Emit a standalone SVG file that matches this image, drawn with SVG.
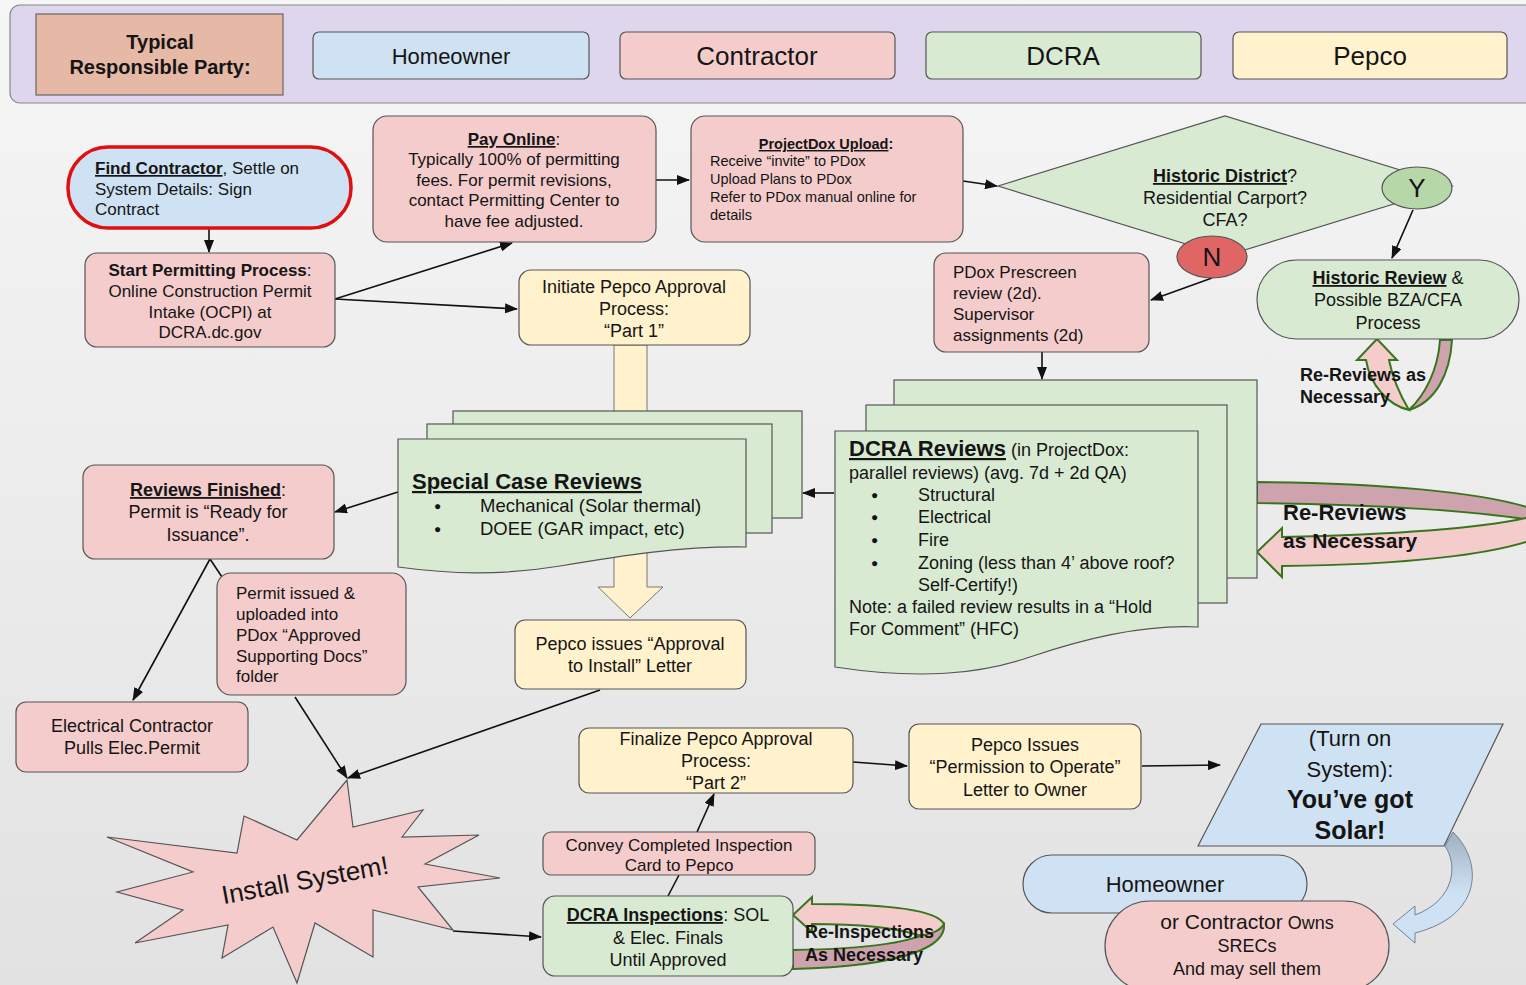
<svg xmlns="http://www.w3.org/2000/svg" width="1526" height="985" viewBox="0 0 1526 985">
<defs>
<linearGradient id="bg" x1="0" y1="0" x2="0" y2="1"><stop offset="0" stop-color="#f6f6f6"/><stop offset="1" stop-color="#e2e2e2"/></linearGradient>
<linearGradient id="gsol" x1="0" y1="0" x2="0" y2="1"><stop offset="0" stop-color="#9fb0c0"/><stop offset="0.55" stop-color="#cfe2f3"/></linearGradient>
<marker id="ah" markerUnits="userSpaceOnUse" markerWidth="13" markerHeight="10" viewBox="0 0 13 10" refX="12" refY="5" orient="auto"><path d="M0,0 L13,5 L0,10 Z" fill="#111"/></marker>
<style>
text{font-family:"Liberation Sans",Arial,sans-serif;fill:#151515}
.c{text-anchor:middle}
.b{font-weight:bold}
.u{text-decoration:underline}
.n{stroke:#555;stroke-width:1.2}
.blue{fill:#cfe2f3}.pink{fill:#f4cccc}.green{fill:#d9ead3}.yellow{fill:#fff2cc}
.conn{stroke:#111;stroke-width:1.6;fill:none}
.arr{marker-end:url(#ah)}
.band{stroke:#38761d;stroke-width:2}
.dark{fill:#cfa3ad}
.f17{font-size:17px}.f18{font-size:18px}
.bul{font-size:12px}
</style>
</defs>
<rect x="0" y="0" width="1526" height="985" fill="url(#bg)"/>

<g id="legend">
<rect x="10" y="5" width="1530" height="98" rx="10" fill="#ddd6ec" stroke="#888" stroke-width="1.2"/>
<rect x="36" y="14" width="247" height="81" fill="#e6b8a6" stroke="#666" stroke-width="1.2"/>
<text class="c b" x="160" y="49" font-size="20">Typical</text>
<text class="c b" x="160" y="74" font-size="20">Responsible Party:</text>
<rect class="n blue" x="313" y="32" width="276" height="47" rx="6"/>
<text class="c" x="451" y="64" font-size="22">Homeowner</text>
<rect class="n pink" x="620" y="32" width="275" height="47" rx="6"/>
<text class="c" x="757" y="65" font-size="26">Contractor</text>
<rect class="n green" x="926" y="32" width="275" height="47" rx="6"/>
<text class="c" x="1063" y="65" font-size="26">DCRA</text>
<rect class="n yellow" x="1233" y="32" width="274" height="47" rx="6"/>
<text class="c" x="1370" y="65" font-size="26">Pepco</text>
</g>

<g id="connectors">
<path d="M614,345 H647 V587 H663 L630,618 L598,587 H614 Z" fill="#fff2cc" stroke="#777" stroke-width="1"/>
<path class="conn arr" d="M209,228 L209,252"/>
<path class="conn arr" d="M335,299 L512,243"/>
<path class="conn arr" d="M335,299 L517,309"/>
<path class="conn arr" d="M656,180 L689,180"/>
<path class="conn arr" d="M963,181 L997,186"/>
<path class="conn arr" d="M1413,210 L1392,258"/>
<path class="conn arr" d="M1212,278 L1151,300"/>
<path class="conn arr" d="M1042,352 L1042,379"/>
<path class="conn arr" d="M834,493 L803,493"/>
<path class="conn arr" d="M398,492 L335,512"/>
<path class="conn arr" d="M210,559 L133,700"/>
<path class="conn" d="M210,559 L222,577"/>
<path class="conn arr" d="M295,697 L347,778"/>
<path class="conn arr" d="M600,690 L348,778"/>
<path class="conn arr" d="M453,931 L541,937"/>
<path class="conn" d="M668,896 L679,875"/>
<path class="conn arr" d="M697,832 L714,794"/>
<path class="conn arr" d="M853,762 L907,766"/>
<path class="conn arr" d="M1142,766 L1220,765"/>
<path class="band dark" d="M1257,482 C1380,483 1480,492 1530,508 C1542,512 1542,518 1530,520 C1480,512 1380,504 1257,503 Z"/>
<path class="band" d="M1257,552 L1282,528 L1282,537 C1380,535 1470,530 1526,518 L1545,514 L1545,535 C1500,555 1400,565 1282,566 L1282,577 Z" fill="#f4cccc"/>
<text class="b" x="1283" y="520" font-size="22">Re-Reviews</text>
<text class="b" x="1283" y="548" font-size="21">as Necessary</text>
<path class="band dark" d="M1409,410 C1425,395 1438,370 1440,340 L1452,340 C1450,375 1435,402 1409,410 Z"/>
<path class="band" d="M1377,339 L1357,360 L1366,360 C1370,385 1388,405 1409,410 C1400,395 1392,375 1389,360 L1397,360 Z" fill="#f4cccc"/>
<text class="b" x="1300" y="381" font-size="18">Re-Reviews as</text>
<text class="b" x="1300" y="403" font-size="18">Necessary</text>
<path class="band dark" d="M793,950 C860,949 920,944 944,924 C946,945 910,966 793,969 Z"/>
<path class="band" d="M793,915 L812,897 L812,904 C870,904 935,907 944,924 C940,932 925,936 918,935 C890,926 850,924 812,924 L812,932 Z" fill="#f4cccc"/>
<text class="b" x="805" y="938" font-size="18">Re-Inspections</text>
<text class="b" x="805" y="961" font-size="18">As Necessary</text>
<path d="M1445,846 C1458,865 1455,900 1415,915 L1415,906 L1393,924 L1415,943 L1415,933 C1485,915 1482,860 1453,832 Z" fill="url(#gsol)" stroke="#6f8499" stroke-width="1"/>
</g>

<g id="find-contractor">
<rect x="68" y="147" width="283" height="81" rx="40" class="blue" stroke="#e01010" stroke-width="3.5"/>
<text class="f17" x="95" y="174"><tspan class="b u">Find Contractor</tspan>, Settle on</text>
<text class="f17" x="95" y="195">System Details: Sign</text>
<text class="f17" x="95" y="215">Contract</text>
</g>

<g id="start-permitting">
<rect class="n pink" x="85" y="253" width="250" height="94" rx="12"/>
<text class="c f17" x="210" y="276"><tspan class="b">Start Permitting Process</tspan>:</text>
<text class="c f17" x="210" y="297">Online Construction Permit</text>
<text class="c f17" x="210" y="318">Intake (OCPI) at</text>
<text class="c f17" x="210" y="338">DCRA.dc.gov</text>
</g>

<g id="pay-online">
<rect class="n pink" x="373" y="116" width="283" height="126" rx="14"/>
<text class="c f17" x="514" y="145"><tspan class="b u">Pay Online</tspan>:</text>
<text class="c f17" x="514" y="165">Typically 100% of permitting</text>
<text class="c f17" x="514" y="186">fees. For permit revisions,</text>
<text class="c f17" x="514" y="206">contact Permitting Center to</text>
<text class="c f17" x="514" y="227">have fee adjusted.</text>
</g>

<g id="projectdox-upload">
<rect class="n pink" x="691" y="116" width="272" height="126" rx="14"/>
<text class="c b" x="826" y="149" font-size="14.5"><tspan class="u">ProjectDox Upload</tspan>:</text>
<text x="710" y="166" font-size="14.5">Receive “invite” to PDox</text>
<text x="710" y="184" font-size="14.5">Upload Plans to PDox</text>
<text x="710" y="202" font-size="14.5">Refer to PDox manual online for</text>
<text x="710" y="220" font-size="14.5">details</text>
</g>

<g id="historic-decision">
<polygon class="n green" points="998,186 1225,116 1452,186 1225,256"/>
<text class="c f18" x="1225" y="182"><tspan class="b u">Historic District</tspan>?</text>
<text class="c f18" x="1225" y="204">Residential Carport?</text>
<text class="c f18" x="1225" y="226">CFA?</text>
</g>

<g id="yes">
<ellipse class="n" cx="1417" cy="188" rx="35" ry="21" fill="#b6d7a8"/>
<text class="c" x="1417" y="197" font-size="26">Y</text>
</g>

<g id="no">
<ellipse class="n" cx="1212" cy="257" rx="35" ry="21" fill="#e06666"/>
<text class="c" x="1212" y="266" font-size="26">N</text>
</g>

<g id="pdox-prescreen">
<rect class="n pink" x="934" y="253" width="215" height="99" rx="12"/>
<text class="f17" x="953" y="278">PDox Prescreen</text>
<text class="f17" x="953" y="299">review (2d).</text>
<text class="f17" x="953" y="320">Supervisor</text>
<text class="f17" x="953" y="341">assignments (2d)</text>
</g>

<g id="historic-review">
<rect class="n green" x="1257" y="260" width="262" height="79" rx="39.5"/>
<text class="c f18" x="1388" y="284"><tspan class="b u">Historic Review</tspan> &amp;</text>
<text class="c f18" x="1388" y="306">Possible BZA/CFA</text>
<text class="c f18" x="1388" y="329">Process</text>
</g>

<g id="initiate-pepco">
<rect class="n yellow" x="519" y="270" width="231" height="75" rx="12"/>
<text class="c f18" x="634" y="293">Initiate Pepco Approval</text>
<text class="c f18" x="634" y="315">Process:</text>
<text class="c f18" x="634" y="337">“Part 1”</text>
</g>

<g id="special-case-reviews">
<rect class="n green" x="453" y="411" width="349" height="107"/>
<rect class="n green" x="427" y="424" width="345" height="109"/>
<path class="n green" d="M398,439 H746 V547 C680,546 620,556 560,566 C500,576 450,574 398,567 Z"/>
<text class="b u" x="412" y="489" font-size="22">Special Case Reviews</text>
<text class="bul" x="434" y="510">●</text>
<text x="480" y="512" font-size="18.5">Mechanical (Solar thermal)</text>
<text class="bul" x="434" y="533">●</text>
<text x="480" y="535" font-size="18.5">DOEE (GAR impact, etc)</text>
</g>

<g id="dcra-reviews">
<rect class="n green" x="894" y="380" width="363" height="198"/>
<rect class="n green" x="866" y="405" width="361" height="198"/>
<path class="n green" d="M835,431 H1198 V627 C1140,624 1080,640 1030,657 C980,674 920,680 835,667 Z"/>
<text x="849" y="456" font-size="18"><tspan class="b u" font-size="22">DCRA Reviews</tspan> (in ProjectDox:</text>
<text x="849" y="479" font-size="18">parallel reviews) (avg. 7d + 2d QA)</text>
<text class="bul" x="871" y="499">●</text><text x="918" y="501" font-size="18">Structural</text>
<text class="bul" x="871" y="521">●</text><text x="918" y="523" font-size="18">Electrical</text>
<text class="bul" x="871" y="544">●</text><text x="918" y="546" font-size="18">Fire</text>
<text class="bul" x="871" y="567">●</text><text x="918" y="569" font-size="18">Zoning (less than 4’ above roof?</text>
<text x="918" y="591" font-size="18">Self-Certify!)</text>
<text x="849" y="613" font-size="18">Note: a failed review results in a “Hold</text>
<text x="849" y="635" font-size="18">For Comment” (HFC)</text>
</g>

<g id="reviews-finished">
<rect class="n pink" x="83" y="465" width="251" height="94" rx="12"/>
<text class="c f18" x="208" y="496"><tspan class="b u">Reviews Finished</tspan>:</text>
<text class="c f18" x="208" y="518">Permit is “Ready for</text>
<text class="c f18" x="208" y="541">Issuance”.</text>
</g>

<g id="permit-issued">
<rect class="n pink" x="217" y="573" width="189" height="122" rx="14"/>
<text class="f17" x="236" y="599">Permit issued &amp;</text>
<text class="f17" x="236" y="620">uploaded into</text>
<text class="f17" x="236" y="641">PDox “Approved</text>
<text class="f17" x="236" y="662">Supporting Docs”</text>
<text class="f17" x="236" y="682">folder</text>
</g>

<g id="electrical-contractor">
<rect class="n pink" x="16" y="702" width="232" height="70" rx="10"/>
<text class="c f18" x="132" y="732">Electrical Contractor</text>
<text class="c f18" x="132" y="754">Pulls Elec.Permit</text>
</g>

<g id="pepco-approval-letter">
<rect class="n yellow" x="515" y="620" width="231" height="69" rx="10"/>
<text class="c f18" x="630" y="650">Pepco issues “Approval</text>
<text class="c f18" x="630" y="672">to Install” Letter</text>
</g>

<g id="install-system">
<polygon class="n pink" points="347,780 353,827 423,810 402,837 479,835 425,864 500,878 418,887 453,930 373,910 373,957 315,923 297,983 273,927 222,958 228,925 135,943 183,910 117,892 193,872 107,837 237,853 244,816 297,840"/>
<text class="c" x="305" y="889" font-size="26" transform="rotate(-10.5 305 880)">Install System!</text>
</g>

<g id="finalize-pepco">
<rect class="n yellow" x="579" y="728" width="274" height="65" rx="10"/>
<text class="c f18" x="716" y="745">Finalize Pepco Approval</text>
<text class="c f18" x="716" y="767">Process:</text>
<text class="c f18" x="716" y="789">“Part 2”</text>
</g>

<g id="convey-card">
<rect class="n pink" x="543" y="832" width="272" height="43" rx="8"/>
<text class="c f17" x="679" y="851">Convey Completed Inspection</text>
<text class="c f17" x="679" y="871">Card to Pepco</text>
</g>

<g id="dcra-inspections">
<rect class="n green" x="543" y="896" width="250" height="80" rx="12"/>
<text class="c f18" x="668" y="921"><tspan class="b u">DCRA Inspections</tspan>: SOL</text>
<text class="c f18" x="668" y="944">&amp; Elec. Finals</text>
<text class="c f18" x="668" y="966">Until Approved</text>
</g>

<g id="pepco-permission">
<rect class="n yellow" x="909" y="724" width="232" height="85" rx="10"/>
<text class="c f18" x="1025" y="751">Pepco Issues</text>
<text class="c f18" x="1025" y="773">“Permission to Operate”</text>
<text class="c f18" x="1025" y="796">Letter to Owner</text>
</g>

<g id="turn-on-system">
<polygon class="n blue" points="1198,846 1261,724 1503,724 1444,846"/>
<text class="c" x="1350" y="746" font-size="22">(Turn on</text>
<text class="c" x="1350" y="777" font-size="22">System):</text>
<text class="c b" x="1350" y="808" font-size="25">You’ve got</text>
<text class="c b" x="1350" y="839" font-size="25">Solar!</text>
</g>

<g id="homeowner-owner">
<rect class="n blue" x="1023" y="855" width="284" height="58" rx="29"/>
<text class="c" x="1165" y="892" font-size="22">Homeowner</text>
</g>

<g id="contractor-owner">
<rect class="n pink" x="1105" y="901" width="284" height="90" rx="45"/>
<text class="c" x="1247" y="929" font-size="21">or Contractor<tspan font-size="18"> Owns</tspan></text>
<text class="c f18" x="1247" y="952">SRECs</text>
<text class="c f18" x="1247" y="975">And may sell them</text>
</g>
</svg>
